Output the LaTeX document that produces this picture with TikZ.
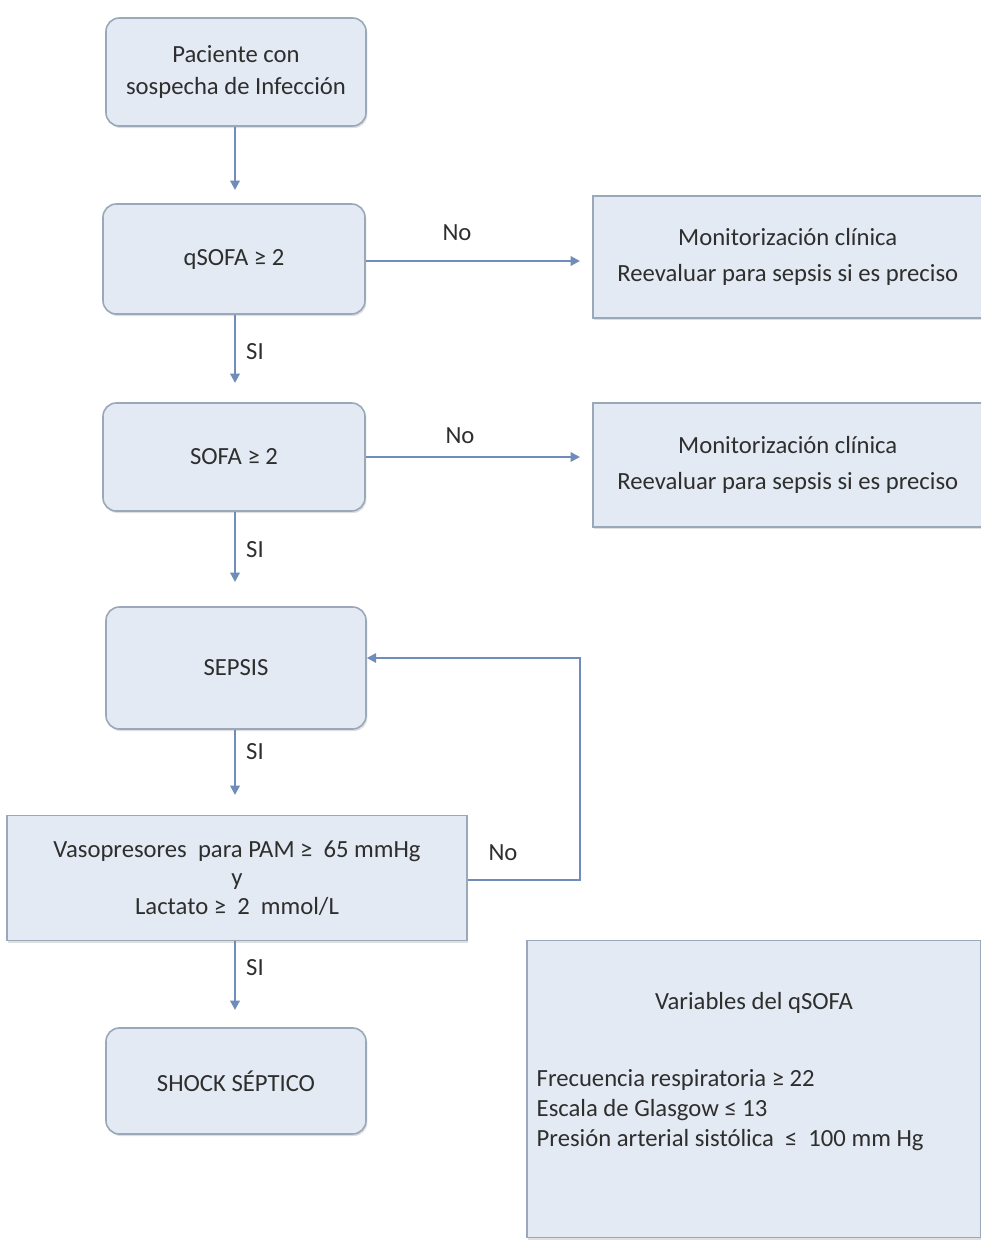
\documentclass[tikz,border=0pt]{standalone}
\usepackage{fontspec}
\setmainfont{Carlito}
\usetikzlibrary{arrows.meta,shadows}
\definecolor{boxfill}{HTML}{E3EAF3}
\definecolor{boxline}{HTML}{9AA8BA}
\definecolor{arrowc}{HTML}{6F8CBA}
\definecolor{txt}{HTML}{2E2E2E}
\tikzset{
  rbox/.style={draw=boxline, line width=1.2pt, fill=boxfill, rounded corners=10pt, text=txt,
    drop shadow={shadow xshift=1pt, shadow yshift=-1.5pt, fill=black!25}, align=center, font=\fontsize{18.5}{24}\selectfont},
  sbox/.style={draw=boxline, line width=1.2pt, fill=boxfill, text=txt,
    drop shadow={shadow xshift=1pt, shadow yshift=-1.5pt, fill=black!25}, align=center, font=\fontsize{18.5}{27}\selectfont},
  conn/.style={draw=arrowc, line width=1.6pt, -{Triangle[length=7pt,width=7pt]}},
  lbl/.style={text=txt, font=\fontsize{18.5}{22.5}\selectfont}
}
\begin{document}
\begin{tikzpicture}[x=0.75pt,y=-0.75pt]
\useasboundingbox (0,0) rectangle (981,1247);
\node[rbox, minimum width=260*0.75pt, minimum height=108*0.75pt] (pac) at (236,72) {Paciente con\\sospecha de Infección};
\node[rbox, minimum width=262*0.75pt, minimum height=110*0.75pt] (qs) at (234,259) {qSOFA ≥ 2};
\node[sbox, minimum width=390*0.75pt, minimum height=122*0.75pt, anchor=west] (m1) at (592,257) {Monitorización clínica\\Reevaluar para sepsis si es preciso};
\node[rbox, minimum width=262*0.75pt, minimum height=108*0.75pt] (sofa) at (234,457) {SOFA ≥ 2};
\node[sbox, minimum width=390*0.75pt, minimum height=124*0.75pt, anchor=west] (m2) at (592,465) {Monitorización clínica\\Reevaluar para sepsis si es preciso};
\node[rbox, minimum width=260*0.75pt, minimum height=122*0.75pt] (sep) at (236,668) {SEPSIS};
\node[sbox, minimum width=460*0.75pt, minimum height=125*0.75pt, font=\fontsize{18.5}{21.5}\selectfont] (vaso) at (237,878) {Vasopresores\ \ para PAM ≥\ \ 65 mmHg\\y\\Lactato ≥\ \ 2\ \ mmol/L};
\node[rbox, minimum width=260*0.75pt, minimum height=106*0.75pt] (shock) at (236,1081) {SHOCK SÉPTICO};
\node[sbox, minimum width=454*0.75pt, minimum height=297*0.75pt] (var) at (754,1089) {};
\node[lbl, anchor=center] (vt) at (754,1003) {Variables del qSOFA};
\node[lbl, anchor=west, align=left] (vl) at (532,1110) {Frecuencia respiratoria ≥ 22\\Escala de Glasgow ≤ 13\\Presión arterial sistólica\ \ ≤\ \ 100 mm Hg};
\coordinate (a1) at (235,190);
\draw[conn] (pac.south -| a1) -- (a1);
\coordinate (a2) at (235,383);
\draw[conn] (qs.south -| a2) -- (a2);
\coordinate (a3) at (235,582);
\draw[conn] (sofa.south -| a3) -- (a3);
\coordinate (a4) at (235,795);
\draw[conn] (sep.south -| a4) -- (a4);
\coordinate (a5) at (235,1010);
\draw[conn] (vaso.south -| a5) -- (a5);
\coordinate (b1) at (580,261);
\draw[conn] (qs.east |- b1) -- (b1);
\coordinate (b2) at (580,457);
\draw[conn] (sofa.east |- b2) -- (b2);
\coordinate (c1) at (580,880);
\coordinate (c2) at (580,658);
\draw[conn] (vaso.east |- c1) -- (c1) -- (c2) -- (sep.east |- c2);
\node[lbl] (l1) at (457,233) {No};
\node[lbl] (l2) at (460,436) {No};
\node[lbl] (l3) at (503,853) {No};
\node[lbl] (s1) at (255,352) {SI};
\node[lbl] (s2) at (255,550) {SI};
\node[lbl] (s3) at (255,752) {SI};
\node[lbl] (s4) at (255,968) {SI};
\end{tikzpicture}
\end{document}
